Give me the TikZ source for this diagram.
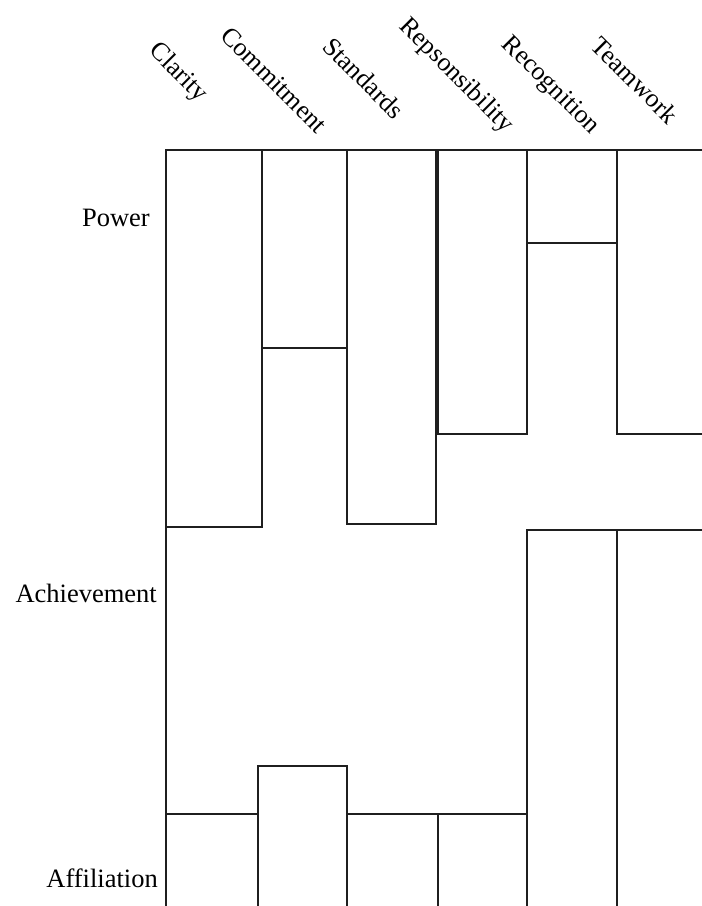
\documentclass[tikz,border=0pt]{standalone}
\usepackage{fontspec}
\setmainfont{Liberation Serif}
\begin{document}
\begin{tikzpicture}[x=1pt,y=-1pt,
  grid/.style={draw=black!88, line width=1.4pt, line cap=rect},
  rowlabel/.style={inner sep=0pt, anchor=base east, font=\fontsize{26.5}{30}\selectfont},
  collabel/.style={inner sep=0pt, rotate=-45, font=\fontsize{26}{30}\selectfont}]
\useasboundingbox (0,0) rectangle (702,906);

% column labels, set at 45 degrees above the grid
\node[collabel] (clarity)    at (178,73)  {Clarity};
\node[collabel] (commitment) at (274,80)  {Commitment};
\node[collabel] (standards)  at (364,78)  {Standards};
\node[collabel] (resp)       at (456,76)  {Repsonsibility};
\node[collabel] (recog)      at (550,86)  {Recognition};
\node[collabel] (team)       at (635,80)  {Teamwork};

% row labels
\node[rowlabel] (power) at (150,226) {Power};
\node[rowlabel] (achv)  at (157,602) {Achievement};
\node[rowlabel] (affil) at (158,887) {Affiliation};

% Power row
\draw[grid] (166,906) -- (166,150) -- (702,150);
\draw[grid] (166,527) -- (262,527) -- (262,150);
\draw[grid] (262,348) -- (347,348);
\draw[grid] (347,150) -- (347,524) -- (436,524) -- (436,150);
\draw[grid] (438,150) -- (438,434) -- (527,434) -- (527,150);
\draw[grid] (527,243) -- (617,243);
\draw[grid] (617,150) -- (617,434) -- (702,434);

% Achievement row
\draw[grid] (527,906) -- (527,530) -- (702,530);
\draw[grid] (617,530) -- (617,906);

% Affiliation row
\draw[grid] (166,814) -- (258,814);
\draw[grid] (258,906) -- (258,766) -- (347,766) -- (347,906);
\draw[grid] (347,814) -- (527,814);
\draw[grid] (438,814) -- (438,906);
\end{tikzpicture}
\end{document}
